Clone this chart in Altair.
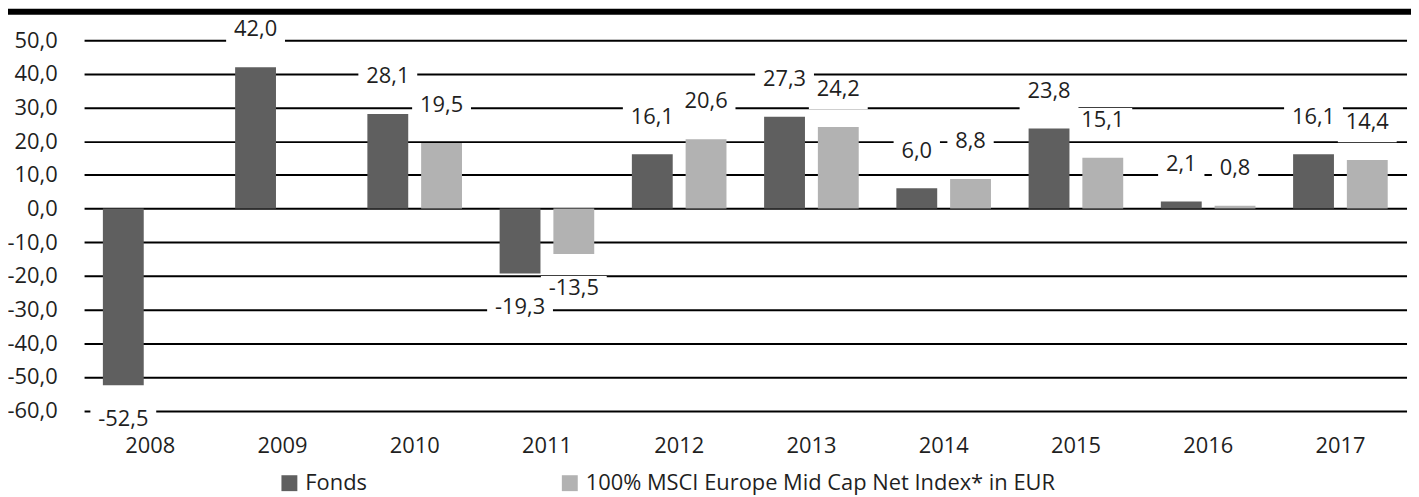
import altair as alt
import pandas as pd

years = ["2008", "2009", "2010", "2011", "2012", "2013", "2014", "2015", "2016", "2017"]
fonds = [-52.5, 42.0, 28.1, -19.3, 16.1, 27.3, 6.0, 23.8, 2.1, 16.1]
index_vals = [None, None, 19.5, -13.5, 20.6, 24.2, 8.8, 15.1, 0.8, 14.4]
series_names = ["Fonds", "100% MSCI Europe Mid Cap Net Index* in EUR"]
colors = ["#5f5f5f", "#b2b2b2"]
y_ticks = [-60, -50, -40, -30, -20, -10, 0, 10, 20, 30, 40, 50]

rows = []
for y, f, i in zip(years, fonds, index_vals):
    for name, v in ((series_names[0], f), (series_names[1], i)):
        if v is None:
            continue
        lab = f"{v:.1f}".replace(".", ",")
        rows.append({"year": y, "series": name, "value": v, "label": lab})
df = pd.DataFrame(rows)

FONT = "Open Sans"
TXT = "#1f1f1f"
W, H = 1330, 372.5

x_enc = alt.X("year:N", sort=years, title=None,
              scale=alt.Scale(paddingInner=0, paddingOuter=0),
              axis=alt.Axis(labelAngle=0, domain=False, ticks=False, tickSize=0,
                            labelPadding=25, labelFont=FONT, labelFontSize=22,
                            labelColor=TXT, grid=False, zindex=2))
xo_enc = alt.XOffset("series:N", sort=series_names,
                     scale=alt.Scale(domain=series_names, paddingInner=0.24, paddingOuter=0.35))
y_enc = alt.Y("value:Q", title=None,
              scale=alt.Scale(domain=[-60, 50], nice=False, zero=False),
              axis=alt.Axis(values=y_ticks, grid=True, gridColor="#000000", gridWidth=2,
                            gridOpacity=1, domain=False, ticks=False, tickSize=0,
                            labelOverlap=False, labelPadding=27, labelFont=FONT,
                            labelFontSize=22, labelColor=TXT, zindex=0,
                            labelExpr="(datum.value < 0 ? '-' : '') + abs(datum.value) + ',0'"))

base = alt.Chart(df)

bars = base.mark_bar().encode(
    x=x_enc, xOffset=xo_enc, y=y_enc,
    color=alt.Color("series:N", sort=series_names,
                    scale=alt.Scale(domain=series_names, range=colors),
                    legend=alt.Legend(title=None, orient="none", direction="horizontal",
                                      legendX=195.5, legendY=434.5, padding=0,
                                      symbolType="square", symbolSize=256,
                                      symbolStrokeWidth=0, labelOffset=5,
                                      columnPadding=192, labelFont=FONT,
                                      labelFontSize=22, labelColor=TXT,
                                      labelLimit=0)),
)

box_calc = ("16 + 12.6 * (length(datum.label) - 1 - (datum.value < 0 ? 1 : 0))"
            " + 5.4 + (datum.value < 0 ? 7 : 0)")

pos = base.transform_filter("datum.value >= 0")
neg = base.transform_filter("datum.value < 0")

def boxes(src, yoff):
    return src.transform_calculate(boxw=box_calc).mark_tick(
        color="white", thickness=32, orient="horizontal", yOffset=yoff, opacity=1
    ).encode(x=x_enc, xOffset=xo_enc, y=y_enc,
             size=alt.Size("boxw:Q", scale=None, legend=None))

def texts(src, dy):
    return src.mark_text(font=FONT, fontSize=22, color=TXT, dy=dy, baseline="middle",
                         align="center").encode(
        x=x_enc, xOffset=xo_enc, y=y_enc, text="label:N")

top_line = alt.Chart(pd.DataFrame({"a": [0]})).mark_rule(color="#000000", strokeWidth=6).encode(
    x=alt.value(-76.5), x2=alt.value(1334.5), y=alt.value(-28.7))

chart = alt.layer(
    bars,
    boxes(pos, -34), boxes(neg, 38),
    texts(pos, -38), texts(neg, 34),
    top_line,
).properties(
    width=W, height=H,
    padding={"left": 76.5, "top": 31, "right": 4.5, "bottom": 85.5},
    autosize=alt.AutoSizeParams(type="none"),
    background="white",
).configure_view(stroke=None)

chart.save("out.html", embed_options={"renderer": "svg", "actions": False})
